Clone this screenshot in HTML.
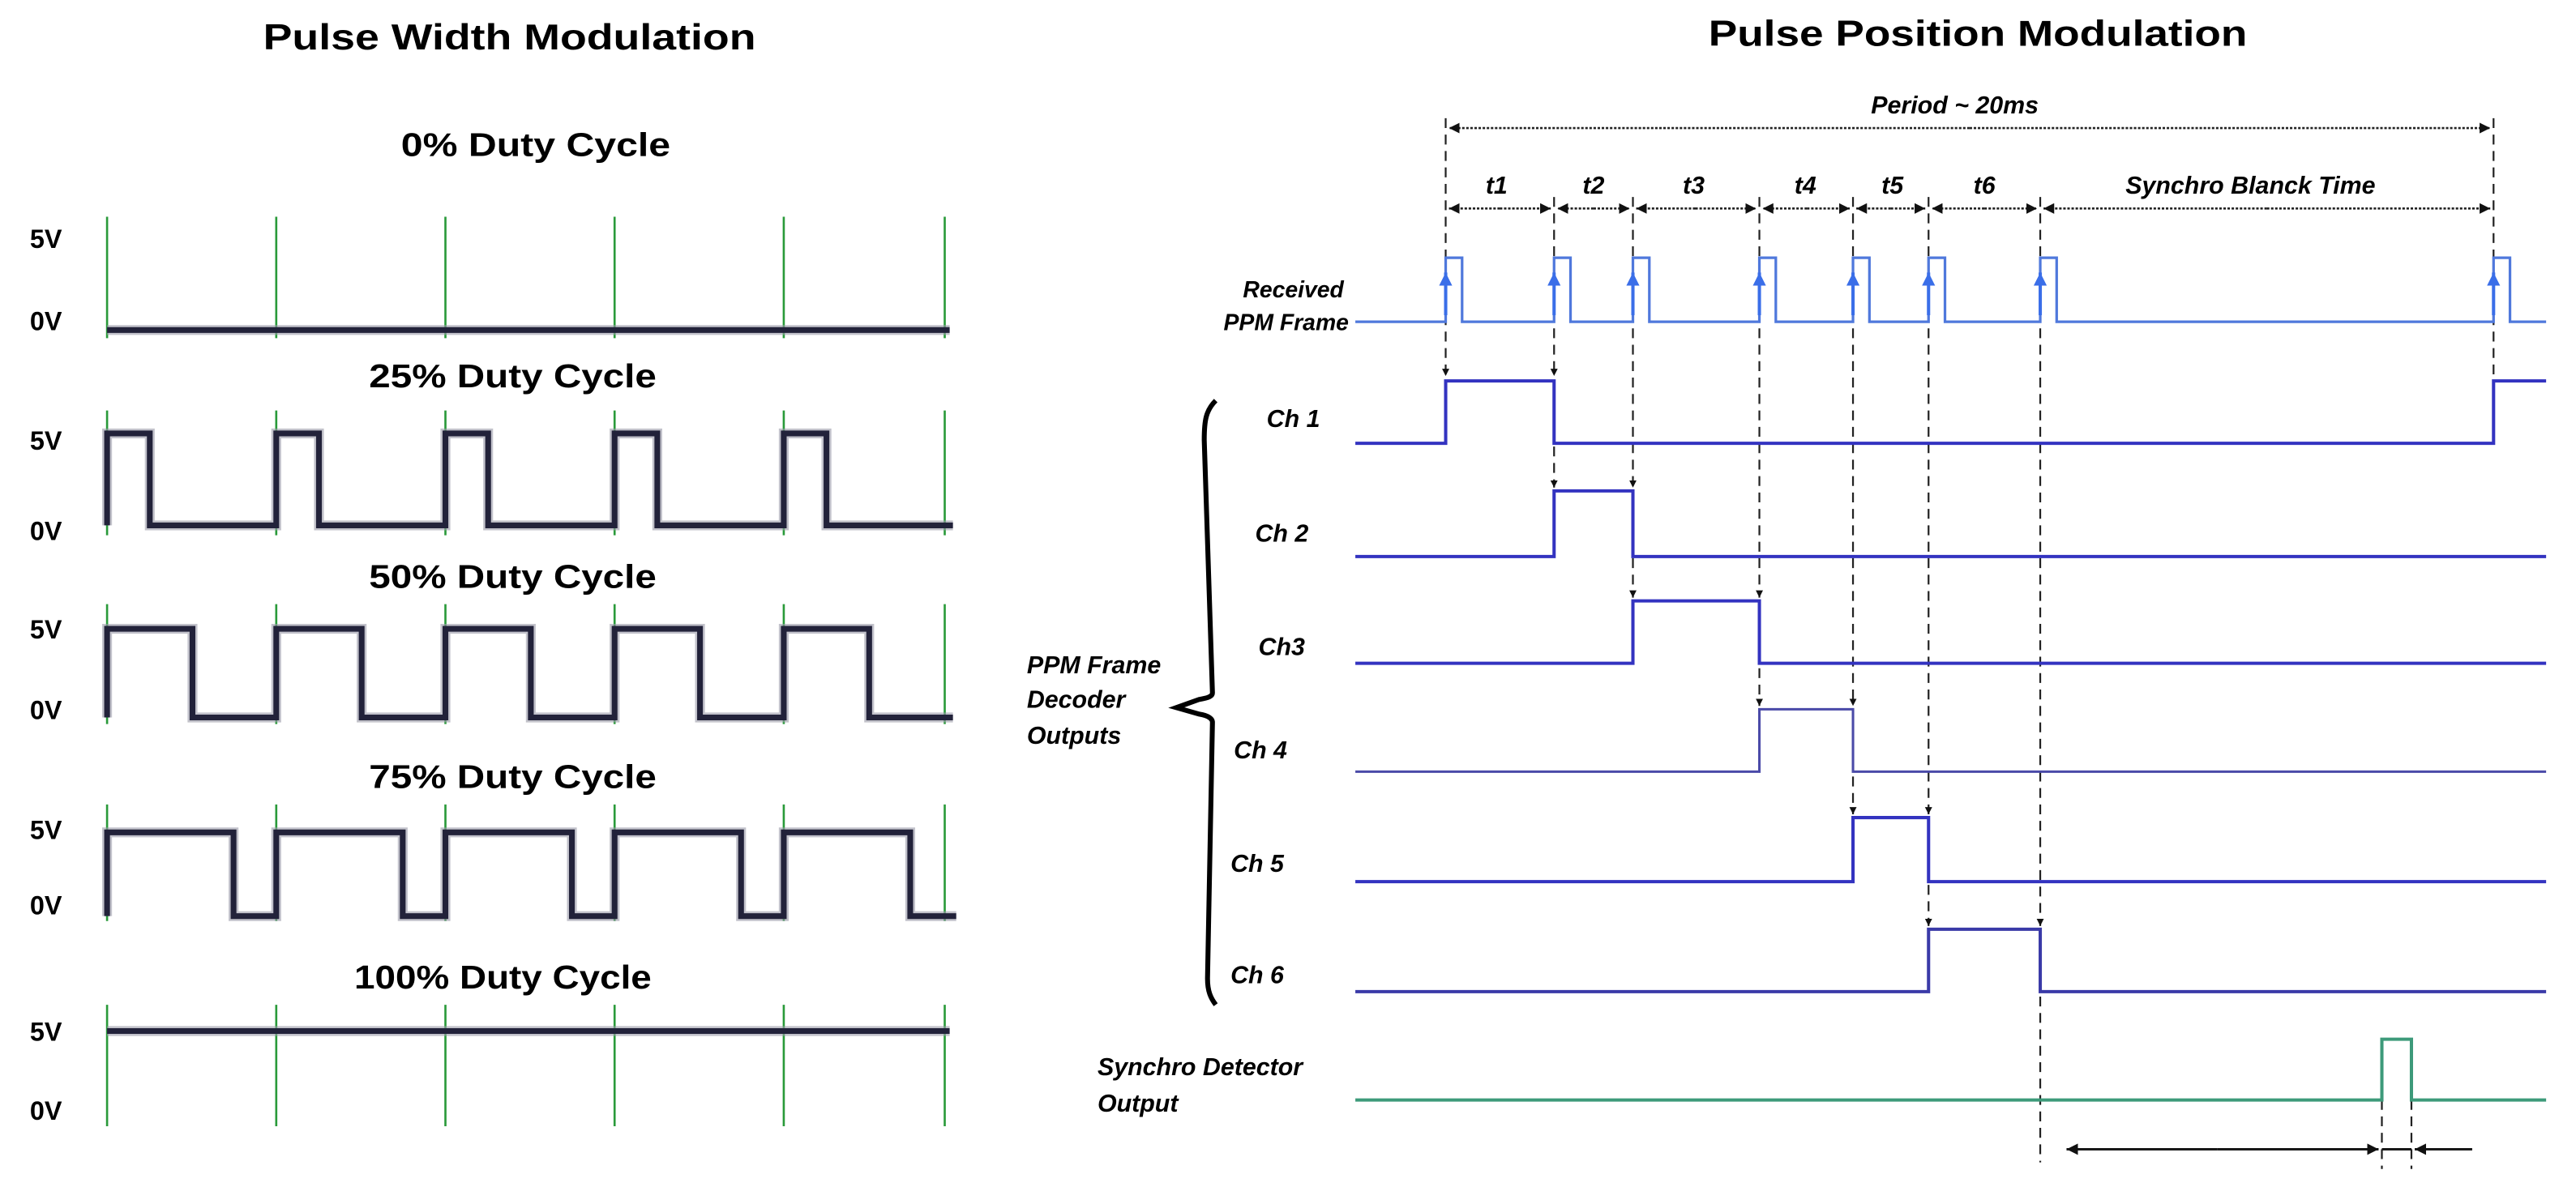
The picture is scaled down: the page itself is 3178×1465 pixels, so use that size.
<!DOCTYPE html>
<html><head><meta charset="utf-8"><style>
html,body{margin:0;padding:0;background:#fff;}
svg{display:block;}
.t{font-family:"Liberation Sans Narrow","Liberation Sans",sans-serif;font-weight:bold;fill:#000;}
.i{font-family:"Liberation Sans",sans-serif;font-weight:bold;font-style:italic;fill:#000;}
</style></head><body>
<svg width="3178" height="1465" viewBox="0 0 1568 723" xmlns="http://www.w3.org/2000/svg">
<defs>
<marker id="ad" viewBox="0 0 10 10" refX="10" refY="5" markerWidth="4" markerHeight="5" orient="auto"><path d="M0,0L10,5L0,10z" fill="#111"/></marker>
<marker id="ab" viewBox="0 0 10 10" refX="10" refY="5" markerWidth="5" markerHeight="5" orient="auto"><path d="M0,0L10,5L0,10z" fill="#111"/></marker>
<marker id="au" viewBox="0 0 10 10" refX="10" refY="5" markerWidth="4" markerHeight="4" orient="auto"><path d="M0,0L10,5L0,10z" fill="#3a6ee8"/></marker>
</defs>

<!-- PWM -->
<text class="t" x="310" y="30" font-size="22" text-anchor="middle" textLength="300" lengthAdjust="spacingAndGlyphs">Pulse Width Modulation</text>
<g font-size="20">
<text class="t" x="326" y="95" text-anchor="middle" textLength="164" lengthAdjust="spacingAndGlyphs">0% Duty Cycle</text>
<text class="t" x="312" y="236" text-anchor="middle" textLength="175" lengthAdjust="spacingAndGlyphs">25% Duty Cycle</text>
<text class="t" x="312" y="358" text-anchor="middle" textLength="175" lengthAdjust="spacingAndGlyphs">50% Duty Cycle</text>
<text class="t" x="312" y="480" text-anchor="middle" textLength="175" lengthAdjust="spacingAndGlyphs">75% Duty Cycle</text>
<text class="t" x="306" y="602" text-anchor="middle" textLength="181" lengthAdjust="spacingAndGlyphs">100% Duty Cycle</text>
</g>
<g font-size="16" class="t">
<text class="t" x="18" y="151">5V</text><text class="t" x="18" y="201">0V</text>
<text class="t" x="18" y="274">5V</text><text class="t" x="18" y="329">0V</text>
<text class="t" x="18" y="389">5V</text><text class="t" x="18" y="438">0V</text>
<text class="t" x="18" y="511">5V</text><text class="t" x="18" y="557">0V</text>
<text class="t" x="18" y="634">5V</text><text class="t" x="18" y="682">0V</text>
</g>
<g stroke="#2a9a3a" stroke-width="1.3">
<path d="M65 132V206M168 132V206M271 132V206M374 132V206M477 132V206M575 132V206"/>
<path d="M65 250V326M168 250V326M271 250V326M374 250V326M477 250V326M575 250V326"/>
<path d="M65 368V441M168 368V441M271 368V441M374 368V441M477 368V441M575 368V441"/>
<path d="M65 490V561M168 490V561M271 490V561M374 490V561M477 490V561M575 490V561"/>
<path d="M65 612V686M168 612V686M271 612V686M374 612V686M477 612V686M575 612V686"/>
</g>
<g fill="none" stroke="#9a9aa8" stroke-width="6" opacity="0.6">
<path d="M65 201H578"/>
<path d="M65 320V264H91V320H168V264H194V320H271V264H297V320H374V264H400V320H477V264H503V320H580"/>
<path d="M65 437V383H117V437H168V383H220V437H271V383H323V437H374V383H426V437H477V383H529V437H580"/>
<path d="M65 558V507H142V558H168V507H245V558H271V507H348V558H374V507H451V558H477V507H554V558H582"/>
<path d="M65 628H578"/>
</g>
<g fill="none" stroke="#22223a" stroke-width="3.5">
<path d="M65 201H578"/>
<path d="M65 320V264H91V320H168V264H194V320H271V264H297V320H374V264H400V320H477V264H503V320H580"/>
<path d="M65 437V383H117V437H168V383H220V437H271V383H323V437H374V383H426V437H477V383H529V437H580"/>
<path d="M65 558V507H142V558H168V507H245V558H271V507H348V558H374V507H451V558H477V507H554V558H582"/>
<path d="M65 628H578"/>
</g>

<!-- PPM -->
<text class="t" x="1204" y="28" font-size="22" text-anchor="middle" textLength="328" lengthAdjust="spacingAndGlyphs">Pulse Position Modulation</text>
<text class="i" x="1190" y="69" font-size="15" text-anchor="middle">Period  ~ 20ms</text>
<g class="i" font-size="15" text-anchor="middle">
<text class="i" x="911" y="118">t1</text><text class="i" x="970" y="118">t2</text><text class="i" x="1031" y="118">t3</text>
<text class="i" x="1099" y="118">t4</text><text class="i" x="1152" y="118">t5</text><text class="i" x="1208" y="118">t6</text>
<text class="i" x="1370" y="118">Synchro Blanck Time</text>
</g>
<!-- dotted arrows -->
<g stroke="#222" stroke-width="1.3" stroke-dasharray="1.5 1" fill="none">
<path d="M1199 78H1516" marker-end="url(#ab)"/><path d="M1199 78H882" marker-end="url(#ab)"/>
<path d="M913 127H944" marker-end="url(#ab)"/><path d="M913 127H882" marker-end="url(#ab)"/>
<path d="M970 127H992" marker-end="url(#ab)"/><path d="M970 127H948" marker-end="url(#ab)"/>
<path d="M1032 127H1069" marker-end="url(#ab)"/><path d="M1032 127H996" marker-end="url(#ab)"/>
<path d="M1100 127H1126" marker-end="url(#ab)"/><path d="M1100 127H1073" marker-end="url(#ab)"/>
<path d="M1151 127H1172" marker-end="url(#ab)"/><path d="M1151 127H1130" marker-end="url(#ab)"/>
<path d="M1208 127H1240" marker-end="url(#ab)"/><path d="M1208 127H1176" marker-end="url(#ab)"/>
<path d="M1380 127H1516" marker-end="url(#ab)"/><path d="M1380 127H1244" marker-end="url(#ab)"/>
</g>
<!-- dashed verticals -->
<g stroke="#222" stroke-width="1.1" stroke-dasharray="6 4" fill="none">
<path d="M880 72V229" marker-end="url(#ad)"/>
<path d="M946 120V229" marker-end="url(#ad)"/>
<path d="M946 232V297" marker-end="url(#ad)"/>
<path d="M994 120V297" marker-end="url(#ad)"/>
<path d="M994 300V364" marker-end="url(#ad)"/>
<path d="M1071 120V364" marker-end="url(#ad)"/>
<path d="M1071 367V430" marker-end="url(#ad)"/>
<path d="M1128 120V430" marker-end="url(#ad)"/>
<path d="M1128 433V496" marker-end="url(#ad)"/>
<path d="M1174 120V496" marker-end="url(#ad)"/>
<path d="M1174 499V564" marker-end="url(#ad)"/>
<path d="M1242 120V564" marker-end="url(#ad)"/>
<path d="M1242 567V708"/>
<path d="M1518 72V232"/>
<path d="M1450 670V712M1468 670V712"/>
</g>
<!-- received PPM -->
<text class="i" x="818" y="181" font-size="14" text-anchor="end">Received</text>
<text class="i" x="821" y="201" font-size="14" text-anchor="end">PPM Frame</text>
<path d="M825 196H880V157H890V196H946V157H956V196H994V157H1004V196H1071V157H1081V196H1128V157H1138V196H1174V157H1184V196H1242V157H1252V196H1518V157H1528V196H1550" fill="none" stroke="#4f78dc" stroke-width="1.6"/>
<g stroke="#3a6ee8" stroke-width="2" marker-end="url(#au)">
<path d="M880 192V166"/><path d="M946 192V166"/><path d="M994 192V166"/><path d="M1071 192V166"/><path d="M1128 192V166"/><path d="M1174 192V166"/><path d="M1242 192V166"/><path d="M1518 192V166"/>
</g>
<!-- channels -->
<g fill="none" stroke="#3333c0" stroke-width="2">
<path d="M825 270H880V232H946V270H1518V232H1550"/>
<path d="M825 339H946V299H994V339H1550"/>
<path d="M825 404H994V366H1071V404H1550"/>
<path d="M825 537H1128V498H1174V537H1550"/>
</g>
<path d="M825 470H1071V432H1128V470H1550" fill="none" stroke="#4a4aa8" stroke-width="1.5"/>
<path d="M825 604H1174V566H1242V604H1550" fill="none" stroke="#3a3aa8" stroke-width="2"/>
<g class="i" font-size="15">
<text class="i" x="771" y="260">Ch 1</text>
<text class="i" x="764" y="330">Ch 2</text>
<text class="i" x="766" y="399">Ch3</text>
<text class="i" x="751" y="462">Ch 4</text>
<text class="i" x="749" y="531">Ch 5</text>
<text class="i" x="749" y="599">Ch 6</text>
<text class="i" x="625" y="410">PPM Frame</text>
<text class="i" x="625" y="431">Decoder</text>
<text class="i" x="625" y="453">Outputs</text>
<text class="i" x="668" y="655">Synchro Detector</text>
<text class="i" x="668" y="677">Output</text>
</g>
<!-- brace -->
<path d="M740 244C734 250 733 256 733 268L738 422C738 424 736 425 730 426L716 431L730 435C736 436 738 438 738 440L735 596C735 604 737 608 740 612" fill="none" stroke="#000" stroke-width="3"/>
<!-- synchro -->
<path d="M825 670H1450V633H1468V670H1550" fill="none" stroke="#3d9a7a" stroke-width="2"/>
<g stroke="#111" stroke-width="1.4" fill="none">
<path d="M1350 700H1258" marker-end="url(#ab)"/>
<path d="M1350 700H1448" marker-end="url(#ab)"/>
<path d="M1450 700H1468"/>
<path d="M1505 700H1470" marker-end="url(#ab)"/>
</g>
</svg>
</body></html>
